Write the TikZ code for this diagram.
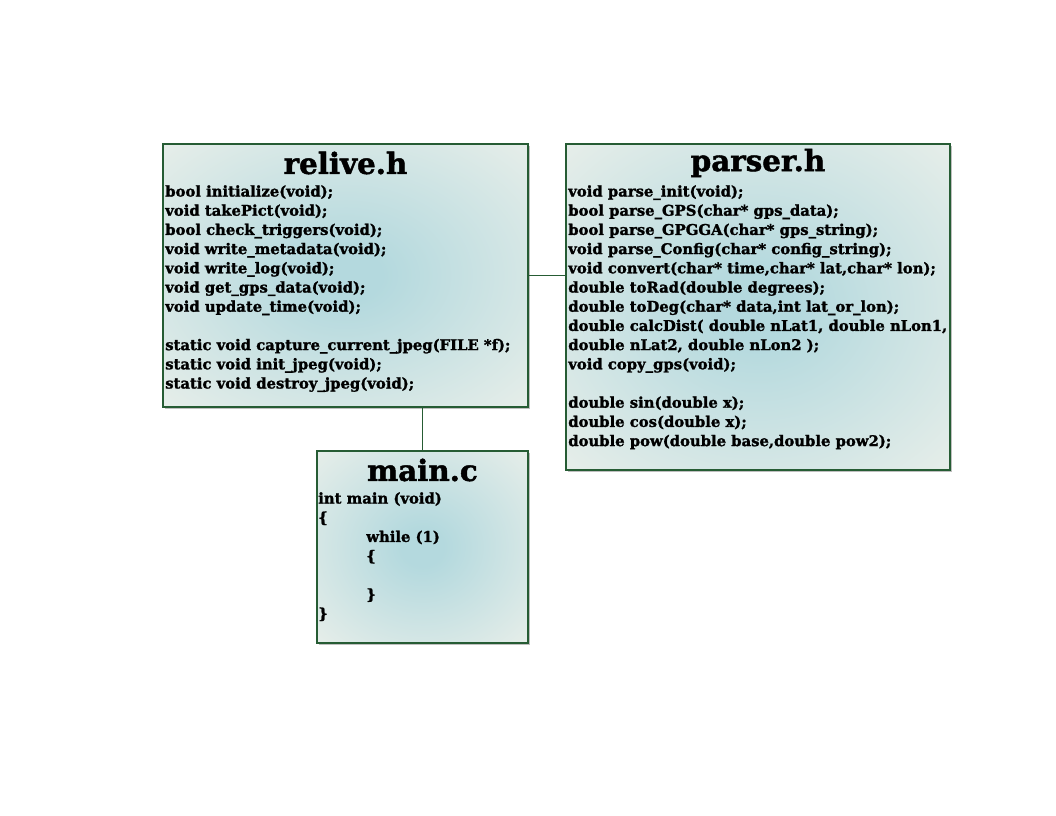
\documentclass[tikz,border=0pt]{standalone}
\usepackage{fontspec}
\setmainfont{DejaVu Serif}[BoldFeatures={FakeBold=1.5}]
\usepackage{tikz}
\usetikzlibrary{shadows}

\definecolor{boxline}{RGB}{38,92,52}
\definecolor{glowin}{RGB}{180,217,222}
\definecolor{glowout}{RGB}{238,241,235}
\pgfdeclareradialshading{boxglow}{\pgfpoint{0bp}{0bp}}{color(0bp)=(glowin); color(5bp)=(glowin); color(40bp)=(glowout); color(50bp)=(glowout)}

\begin{document}
\begin{tikzpicture}[x=0.75pt,y=-0.75pt,
  filebox/.style={rectangle,draw=boxline,line width=1.5pt,shading=boxglow,
    drop shadow={shadow xshift=1.2pt,shadow yshift=-1.2pt,fill=black,opacity=.25},
    inner sep=0pt,outer sep=0pt},
  boxtitle/.style={font=\fontsize{22}{22}\selectfont\bfseries,inner sep=0pt},
  boxbody/.style={font=\fontsize{11.1}{14.4}\selectfont\bfseries,align=left,anchor=north west,inner sep=0pt},
  link/.style={draw=boxline,line width=0.8pt}]

  \useasboundingbox (0,0) rectangle (1056,816);

  % the three files
  \node [filebox,minimum width=273.75pt,minimum height=197.25pt] (relive) at (345.5,275.5) {};
  \node [filebox,minimum width=288pt,minimum height=244.5pt] (parser) at (758,307) {};
  \node [filebox,minimum width=158.25pt,minimum height=144pt] (mainc) at (422.5,547) {};

  \draw [link] (relive.east) -- (relive.east -| parser.west);
  \draw [link] (mainc.north |- relive.south) -- (mainc.north);

  \node [boxtitle] (relivetitle) at (345.5,163) {relive.h};
  \node [boxtitle] (parsertitle) at (758,163) {parser.h};
  \node [boxtitle] (maintitle) at (422.5,470) {main.c};

  \node [boxbody] (relivebody) at (165,185) {
    bool initialize(void);\\
    void takePict(void);\\
    bool check\_triggers(void);\\
    void write\_metadata(void);\\
    void write\_log(void);\\
    void get\_gps\_data(void);\\
    void update\_time(void);\\
    ~\\
    static void capture\_current\_jpeg(FILE *f);\\
    static void init\_jpeg(void);\\
    static void destroy\_jpeg(void);};

  \node [boxbody] (parserbody) at (568,185) {
    void parse\_init(void);\\
    bool parse\_GPS(char* gps\_data);\\
    bool parse\_GPGGA(char* gps\_string);\\
    void parse\_Config(char* config\_string);\\
    void convert(char* time,char* lat,char* lon);\\
    double toRad(double degrees);\\
    double toDeg(char* data,int lat\_or\_lon);\\
    double calcDist( double nLat1, double nLon1,\\
    double nLat2, double nLon2 );\\
    void copy\_gps(void);\\
    ~\\
    double sin(double x);\\
    double cos(double x);\\
    double pow(double base,double pow2);};

  \node [boxbody] (mainbody) at (318,492) {
    int main (void)\\
    \{\\
    \hspace*{36pt}while (1)\\
    \hspace*{36pt}\{\\
    ~\\
    \hspace*{36pt}\}\\
    \}};

\end{tikzpicture}
\end{document}
